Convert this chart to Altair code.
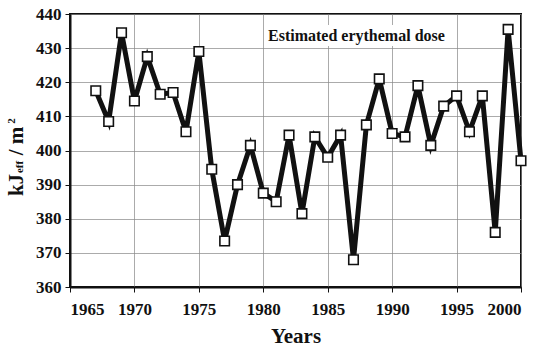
import altair as alt
import pandas as pd

years = list(range(1967, 2001))
dose = [417.5, 408.5, 434.5, 414.5, 427.5, 416.5, 417, 405.5, 429, 394.5,
        373.5, 390, 401.5, 387.5, 385, 404.5, 381.5, 404, 398, 404.5,
        368, 407.5, 421, 405, 404, 419, 401.5, 413, 416, 405.5,
        416, 376, 435.5, 397]
x_ticks = [1965, 1970, 1975, 1980, 1985, 1990, 1995, 2000]
y_ticks = [360, 370, 380, 390, 400, 410, 420, 430, 440]
annotation = "Estimated erythemal dose"

df = pd.DataFrame({"year": years, "dose": dose})
FONT = "Liberation Serif"

x = alt.X("year:Q", scale=alt.Scale(domain=[1965, 2000], nice=False),
          axis=alt.Axis(values=x_ticks, format="d", title="Years", labelFontSize=17,
                        titleFontSize=21, labelPadding=9, titlePadding=8))
y = alt.Y("dose:Q", scale=alt.Scale(domain=[360, 440], nice=False, zero=False),
          axis=alt.Axis(values=y_ticks, title=None, labelFontSize=17, labelPadding=4))

base = alt.Chart(df)
line = base.mark_line(color="#111111", strokeWidth=5).encode(x=x, y=y)
pts = base.mark_point(shape="square", filled=True, fill="white", stroke="#111111",
                      strokeWidth=1.6, size=90, opacity=1).encode(x=x, y=y)

one = pd.DataFrame({"k": [0]})
box = alt.Chart(one).mark_rect(fill="white").encode(
    x=alt.value(196), x2=alt.value(382), y=alt.value(11), y2=alt.value(32))
ann = alt.Chart(pd.DataFrame({"t": [annotation]})).mark_text(
    font=FONT, fontWeight="bold", fontSize=16, align="left", baseline="middle", color="#111111"
).encode(x=alt.value(198), y=alt.value(22), text="t:N")

def ytxt(t, xv, yv, size):
    return alt.Chart(pd.DataFrame({"t": [t]})).mark_text(
        font=FONT, fontWeight="bold", fontSize=size, angle=270, align="center",
        baseline="middle", color="#111111"
    ).encode(x=alt.value(xv), y=alt.value(yv), text="t:N")

ytitle = (ytxt("kJ", -53, 171, 21) + ytxt("eff", -50, 153, 11)
          + ytxt("/ m", -53, 127, 21) + ytxt("2", -58, 107, 11))

chart = alt.layer(line, pts, box, ann, ytitle).properties(
    width=451, height=273,
    autosize=alt.AutoSizeParams(type="none"),
    padding={"left": 70, "top": 14, "right": 16, "bottom": 62},
    background="white",
).configure_view(stroke="#111111", strokeWidth=2).configure_axis(
    labelFont=FONT, titleFont=FONT, labelFontWeight="bold", titleFontWeight="bold",
    labelColor="#111111", titleColor="#111111",
    domainColor="#111111", domainWidth=2, tickColor="#111111", tickSize=5, tickWidth=1,
    gridColor="#888888", gridWidth=1, gridOpacity=0.7,
)

chart.save("out.html", embed_options={"renderer": "svg", "actions": False})
